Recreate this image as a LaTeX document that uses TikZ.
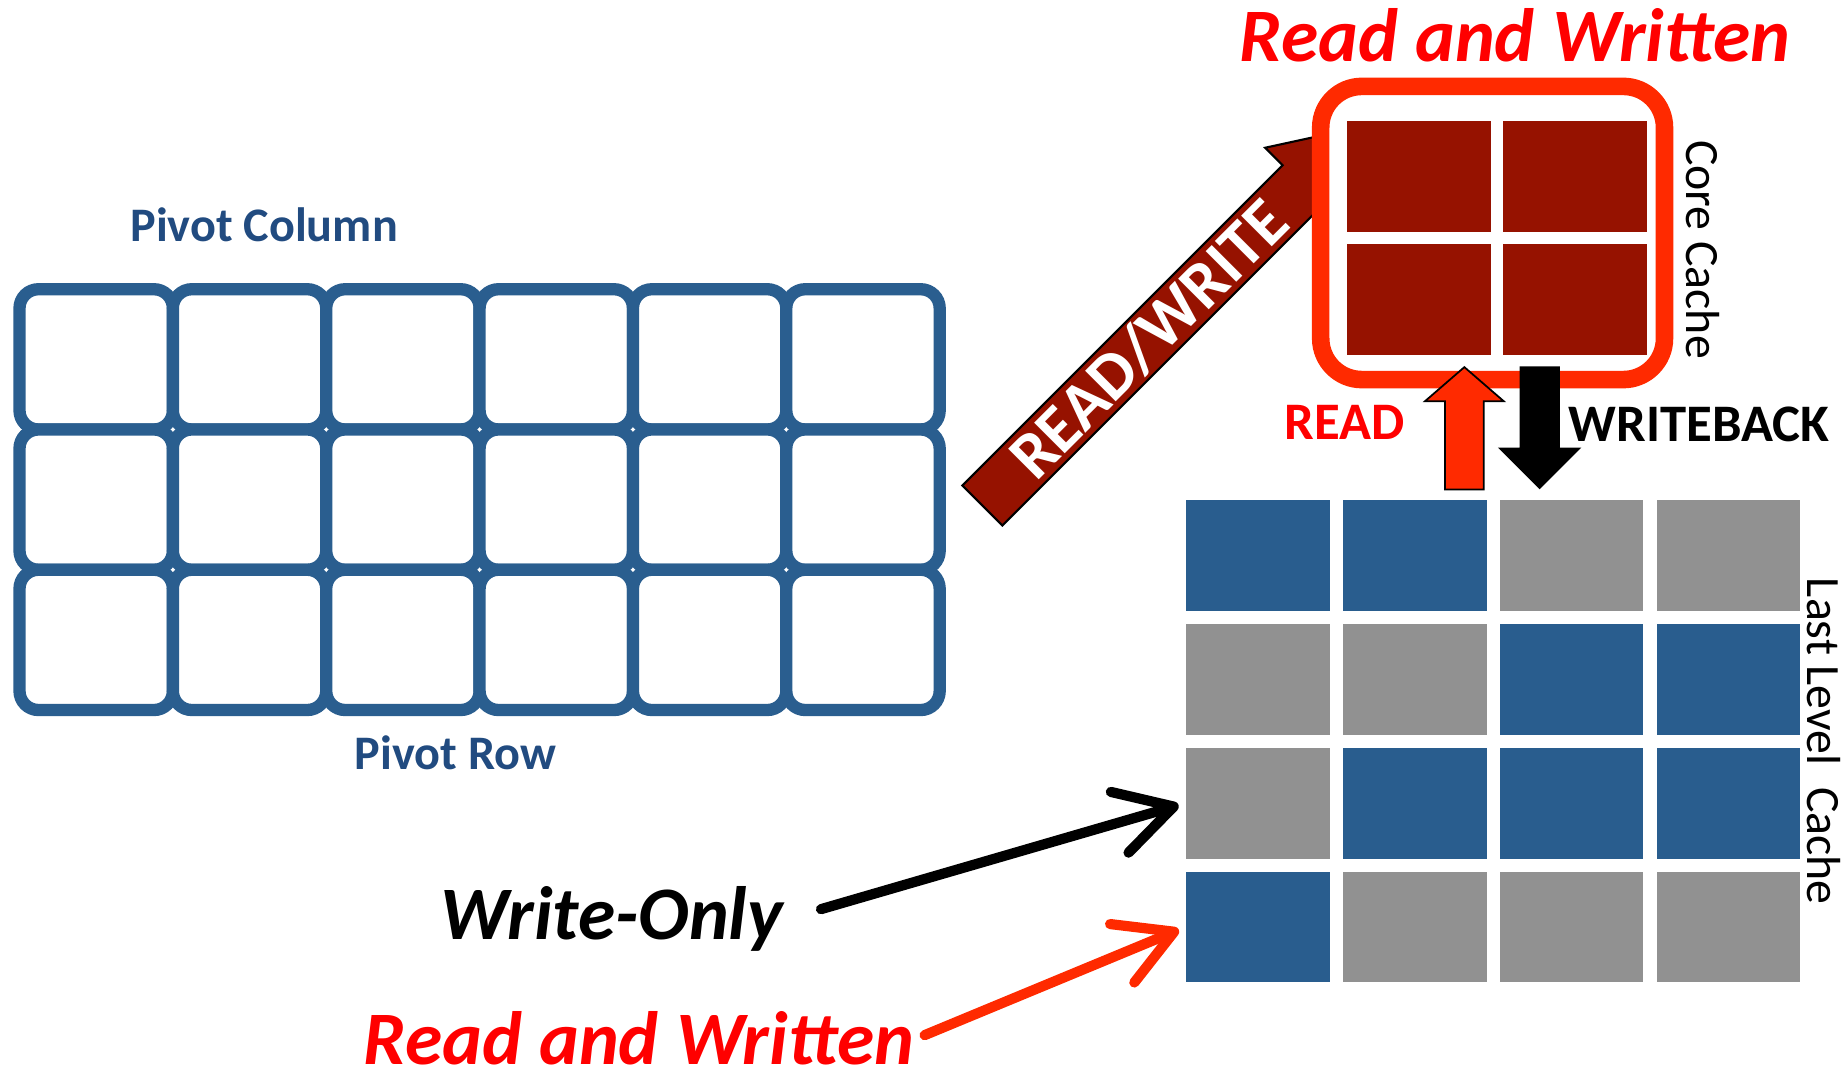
\documentclass[tikz,border=0pt]{standalone}
\usepackage{fontspec}
\setmainfont{Carlito}
\usetikzlibrary{arrows.meta, positioning, calc}

\definecolor{gridblue}{RGB}{42,94,143}
\definecolor{pivotblue}{RGB}{33,75,128}
\definecolor{llcblue}{RGB}{41,93,142}
\definecolor{llcgray}{RGB}{145,145,145}
\definecolor{coredark}{RGB}{150,18,0}
\definecolor{hotred}{RGB}{255,42,0}
\definecolor{textred}{RGB}{255,0,0}

\begin{document}
\begin{tikzpicture}[x=0.011767cm, y=-0.011767cm,
    gridcell/.style={draw=gridblue, line width=3.5pt, fill=white, rounded corners=5.4pt,
      minimum width=43.64pt, minimum height=39.91pt, inner sep=0pt},
    llccell/.style={minimum width=40.85pt, minimum height=31.48pt, inner sep=0pt},
    corecell/.style={fill=coredark, minimum width=40.85pt, minimum height=31.5pt, inner sep=0pt},
    pivotlabel/.style={text=pivotblue, font=\fontsize{13.7}{15}\selectfont\bfseries},
    bigitalic/.style={font=\fontsize{21.5}{24}\selectfont\bfseries\itshape, inner sep=1pt},
    arrowlabel/.style={font=\fontsize{15}{17}\selectfont\bfseries},
    sidelabel/.style={font=\fontsize{13.6}{15}\selectfont, rotate=-90},
    pointer/.style={line width=2.9pt, line cap=round,
      -{Straight Barb[round, length=16pt, width=18pt]}}]
  \useasboundingbox (0,0) rectangle (1568,910);

  \foreach \r in {1,2,3}
    \foreach \c in {1,...,6}
      \node[gridcell] (g-\r-\c) at ({16.6+130.33*(\c-0.5)}, {245.8+119.2*(\r-0.5)}) {};
  \node[pivotlabel] (pcol) at (224.5,191) {Pivot Column};
  \node[pivotlabel] (prow) at (387,639.5) {Pivot Row};

  \coordinate (rwfrom) at ($(g-2-6.east)+(31,5)$);
  \draw[fill=coredark, draw=black, line width=0.6pt, shift={(rwfrom)}, rotate=45]
    (0,-24) -- (385,-24) -- (385,-45) -- (455,0) -- (385,45) -- (385,24) -- (0,24) -- cycle;
  \node[white, rotate=45, font=\fontsize{19}{21}\selectfont\bfseries, inner sep=0pt] (rwtext)
    at ($(rwfrom)+(141.4,-141.4)$) {READ/WRITE};

  \node[draw=hotred, line width=5pt, fill=white, rounded corners=11.7pt,
    minimum width=97.8pt, minimum height=83.4pt] (core) at (1268.5,198) {};
  \foreach \r/\y in {1/150,2/254.5}
    \foreach \c/\x in {1/1206,2/1338.5}
      \node[corecell] (cc-\r-\c) at (\x,\y) {};
  \node[sidelabel] (corelabel) at (1447,212) {Core Cache};
  \node[bigitalic, text=textred] (rwtop) at (1287.5,30) {Read and Written};

  \coordinate (readfrom) at (1244.5,416);
  \draw[fill=hotred, draw=black, line width=0.5pt, shift={(readfrom)}]
    (-16.5,0) -- (-16.5,-75) -- (-33.5,-75) -- (0,-104) -- (33.5,-75) -- (16.5,-75) -- (16.5,0) -- cycle;
  \coordinate (wbfrom) at (1308.5,312);
  \draw[fill=black, shift={(wbfrom)}]
    (-16.5,0) -- (-16.5,69) -- (-34,69) -- (0,103) -- (34,69) -- (16.5,69) -- (16.5,0) -- cycle;
  \node[arrowlabel, text=textred] (readlabel) at (1143,359) {READ};
  \node[arrowlabel] (wblabel) at (1444,361) {WRITEBACK};

  \foreach \cols [count=\r] in {{llcblue,llcblue,llcgray,llcgray},{llcgray,llcgray,llcblue,llcblue},
      {llcgray,llcblue,llcblue,llcblue},{llcblue,llcgray,llcgray,llcgray}}
    \foreach \col [count=\c] in \cols
      \node[llccell, fill=\col] (llc-\r-\c) at ({1069+133.3*(\c-1)}, {472+105.3*(\r-1)}) {};
  \node[sidelabel] (llclabel) at (1550,630) {Last Level\ \ Cache};

  \node[bigitalic] (wo) at (520,781) {Write-Only};
  \node[bigitalic, text=textred] (rwbottom) at (543,882) {Read and Written};
  \draw[pointer, shorten <=10pt, shorten >=2pt] (wo.east) -- (llc-3-1.west);
  \draw[pointer, hotred, shorten <=2pt, shorten >=2pt] (rwbottom.east) -- (llc-4-1.west);
\end{tikzpicture}
\end{document}
